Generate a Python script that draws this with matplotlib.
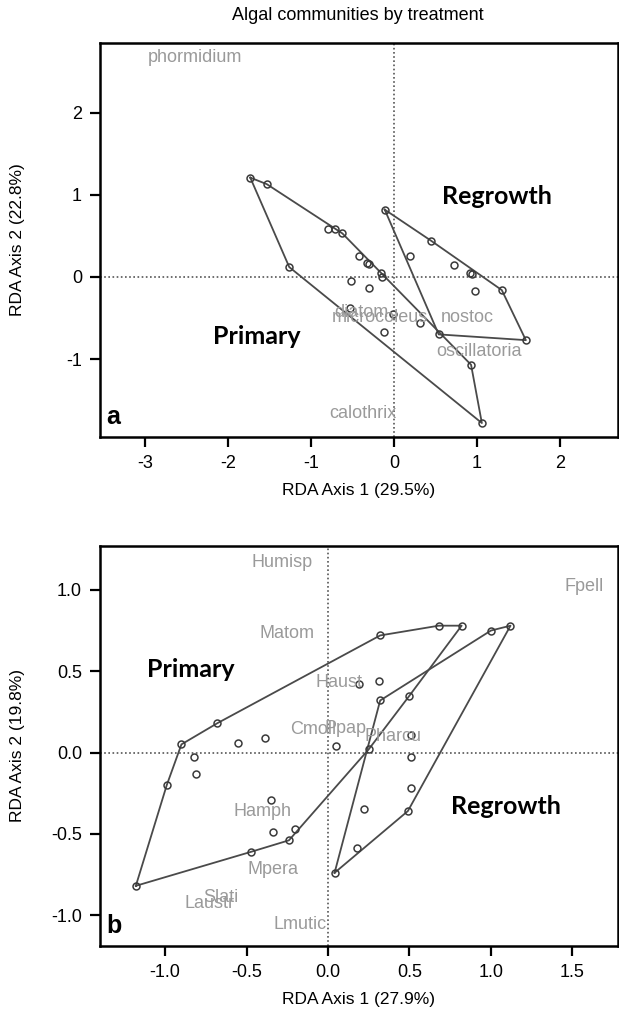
import numpy as np
import matplotlib.pyplot as plt

plt.rcParams['font.family'] = ['Liberation Sans', 'DejaVu Sans']

# ---- panel a : site scores per treatment ----
prim_a_x = [-1.73, -1.53, -0.71, -0.62, 0.93, 1.06, -1.26,
            -0.79, -0.42, -0.32, -0.30, -0.16, -0.14, -0.52, -0.30, -0.53, -0.01, -0.12, 0.32]
prim_a_y = [1.21, 1.13, 0.58, 0.53, -1.07, -1.78, 0.12,
            0.58, 0.25, 0.17, 0.16, 0.05, 0.00, -0.05, -0.14, -0.38, -0.45, -0.67, -0.56]
regr_a_x = [-0.11, 0.45, 1.30, 1.59, 0.54, 0.19, 0.73, 0.92, 0.94, 0.98]
regr_a_y = [0.82, 0.44, -0.16, -0.77, -0.70, 0.26, 0.14, 0.05, 0.03, -0.17]

# species scores panel a
spec_a = ['phormidium', 'diatom', 'microcoleus', 'nostoc', 'oscillatoria', 'calothrix']
spec_a_x = [-2.40, -0.39, -0.17, 0.88, 1.02, -0.37]
spec_a_y = [2.67, -0.43, -0.50, -0.50, -0.91, -1.66]

# ---- panel b ----
prim_b_x = [0.32, 0.68, 0.82, 0.50, 0.25, -0.20, -0.24, -0.47, -1.18, -0.99, -0.90, -0.68,
            -0.82, -0.81, -0.55, -0.39, -0.35, -0.34, 0.05, 0.19, 0.31]
prim_b_y = [0.72, 0.78, 0.78, 0.35, 0.02, -0.47, -0.54, -0.61, -0.82, -0.20, 0.05, 0.18,
            -0.03, -0.13, 0.06, 0.09, -0.29, -0.49, 0.04, 0.42, 0.44]
regr_b_x = [1.00, 1.12, 0.49, 0.18, 0.04, 0.32, 0.51, 0.51, 0.51, 0.22]
regr_b_y = [0.75, 0.78, -0.36, -0.59, -0.74, 0.32, 0.11, -0.03, -0.22, -0.35]

spec_b = ['Humisp', 'Fpell', 'Matom', 'Haust', 'Cmoll', 'Ppap', 'Pharcu',
          'Hamph', 'Mpera', 'Slati', 'Laustr', 'Lmutic']
spec_b_x = [-0.28, 1.57, -0.25, 0.07, -0.09, 0.11, 0.40, -0.40, -0.34, -0.66, -0.73, -0.17]
spec_b_y = [1.17, 1.02, 0.73, 0.43, 0.14, 0.15, 0.10, -0.36, -0.72, -0.89, -0.93, -1.06]


def hull(x, y):
    # convex hull (monotone chain), returned closed
    pts = sorted(set(zip(x, y)))

    def cross(o, a, b):
        return (a[0]-o[0])*(b[1]-o[1]) - (a[1]-o[1])*(b[0]-o[0])
    lower, upper = [], []
    for p in pts:
        while len(lower) >= 2 and cross(lower[-2], lower[-1], p) <= 0:
            lower.pop()
        lower.append(p)
    for p in reversed(pts):
        while len(upper) >= 2 and cross(upper[-2], upper[-1], p) <= 0:
            upper.pop()
        upper.append(p)
    h = lower[:-1] + upper[:-1]
    h.append(h[0])
    return [p[0] for p in h], [p[1] for p in h]


def panel(ax, groups, names, sx, sy, xlim, ylim, xticks, yticks, fmt, grp_txt, letter):
    ax.set_xlim(xlim)
    ax.set_ylim(ylim)
    ax.axhline(0, color='#555555', lw=1.2, ls=(0, (1, 1.5)), zorder=1)
    ax.axvline(0, color='#555555', lw=1.2, ls=(0, (1, 1.5)), zorder=1)
    for gx, gy in groups:
        hx, hy = hull(gx, gy)
        ax.plot(hx, hy, color='#4a4a4a', lw=1.3, zorder=2)
        ax.plot(gx, gy, 'o', ms=5, mfc='none', mec='#3a3a3a', mew=1.1, zorder=3)
    for n, x, y in zip(names, sx, sy):
        ax.text(x, y, n, color='#9a9a9a', fontsize=13, ha='center', va='center', zorder=4)
    for t, x, y in grp_txt:
        ax.text(x, y, t, fontsize=18, fontweight='bold', family=['Lato', 'DejaVu Sans'],
                ha='center', va='center', zorder=5)
    ax.text(0.012, 0.02, letter, transform=ax.transAxes, fontsize=18, fontweight='bold',
            ha='left', va='bottom')
    ax.set_xticks(xticks)
    ax.set_yticks(yticks)
    ax.set_xticklabels([fmt % v for v in xticks])
    ax.set_yticklabels([fmt % v for v in yticks])
    ax.tick_params(length=7, width=1.6, labelsize=13, pad=6)
    for s in ax.spines.values():
        s.set_linewidth(1.8)


fig = plt.figure(figsize=(6.19, 10.14), dpi=100)
fig.text(0.578, 0.985, 'Algal communities by treatment', fontsize=13, ha='center', va='center')

ax1 = fig.add_axes([100/619, 1-437/1014, 518/619, 394/1014])
panel(ax1, [(prim_a_x, prim_a_y), (regr_a_x, regr_a_y)], spec_a, spec_a_x, spec_a_y,
      (-3.54, 2.70), (-1.95, 2.85), [-3, -2, -1, 0, 1, 2], [-1, 0, 1, 2], '%d',
      [('Regrowth', 1.24, 0.98), ('Primary', -1.65, -0.72)], 'a')
ax1.set_xlabel('RDA Axis 1 (29.5%)', fontsize=12.5, labelpad=8)
ax1.set_ylabel('RDA Axis 2 (22.8%)', fontsize=12.5)
ax1.yaxis.set_label_coords(-0.145, 0.5)

ax2 = fig.add_axes([100/619, 1-946/1014, 518/619, 400/1014])
panel(ax2, [(prim_b_x, prim_b_y), (regr_b_x, regr_b_y)], spec_b, spec_b_x, spec_b_y,
      (-1.40, 1.78), (-1.19, 1.27), [-1.0, -0.5, 0.0, 0.5, 1.0, 1.5], [-1.0, -0.5, 0.0, 0.5, 1.0], '%.1f',
      [('Primary', -0.84, 0.51), ('Regrowth', 1.09, -0.33)], 'b')
ax2.set_xlabel('RDA Axis 1 (27.9%)', fontsize=12.5, labelpad=8)
ax2.set_ylabel('RDA Axis 2 (19.8%)', fontsize=12.5)
ax2.yaxis.set_label_coords(-0.145, 0.5)

fig.savefig('out.png', dpi=100)
